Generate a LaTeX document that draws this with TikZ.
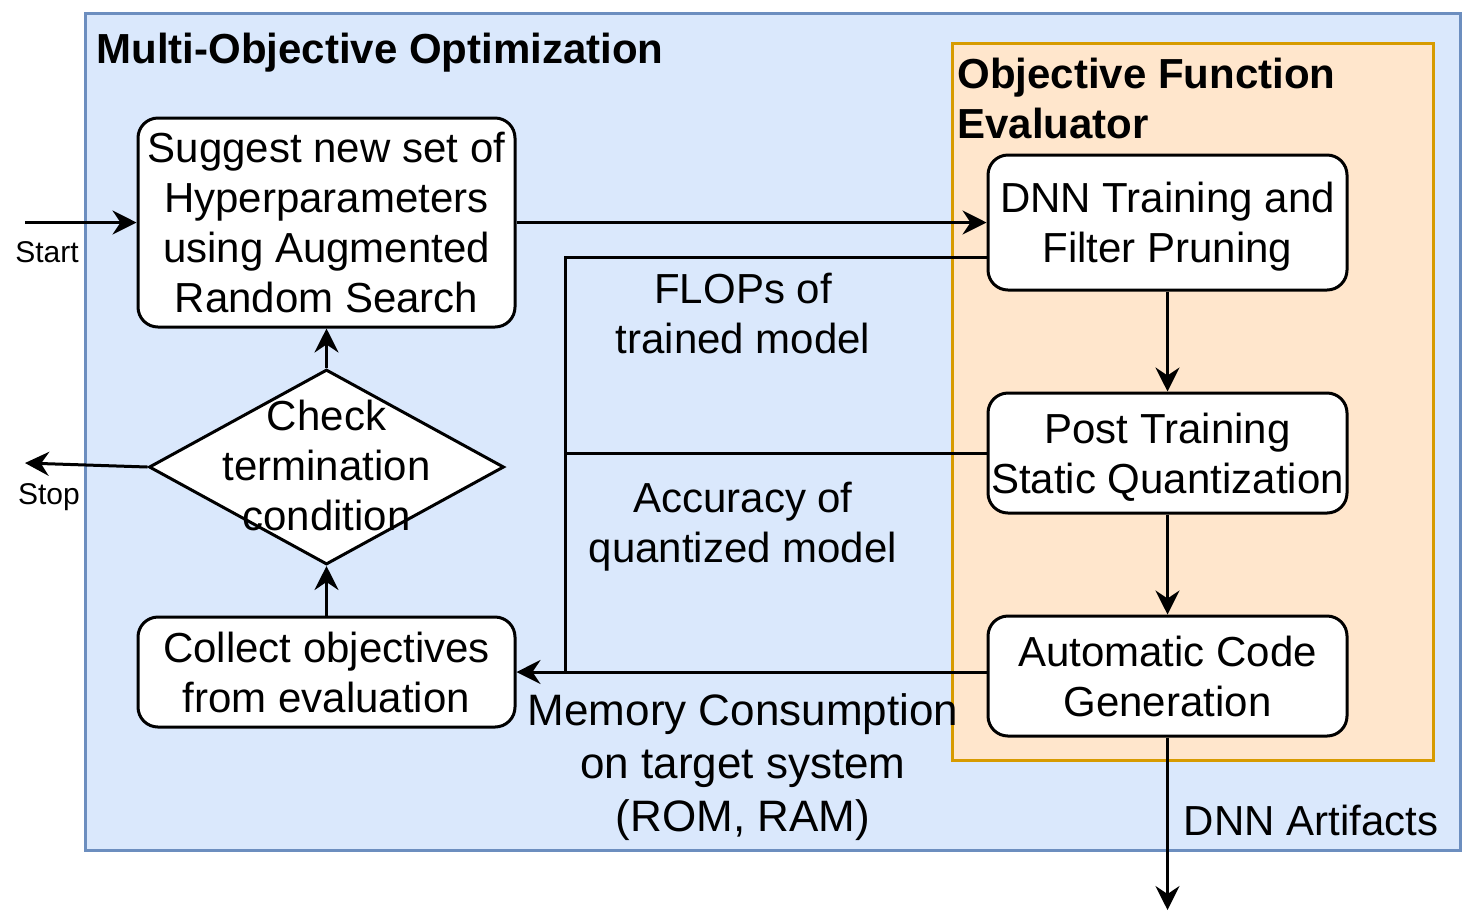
\documentclass[tikz,border=0pt]{standalone}
\usepackage{fontspec}
\setmainfont{Liberation Sans}
\usepackage{tikz}
\usetikzlibrary{arrows.meta,shapes.geometric}

\definecolor{moofill}{HTML}{DAE8FC}
\definecolor{mooline}{HTML}{6C8EBF}
\definecolor{evalfill}{HTML}{FFE6CC}
\definecolor{evalline}{HTML}{D79B00}

\begin{document}
\begin{tikzpicture}[x=0.5pt,y=-0.5pt,line width=1.5pt,
    >={Stealth[length=12pt,width=12pt,inset=4pt]},
    box/.style={draw,fill=white,rounded corners=10pt,align=center,inner sep=0pt,text depth=0pt,font=\fontsize{21}{25}\selectfont},
    lbl/.style={align=center,inner sep=0pt,text depth=0pt,font=\fontsize{21}{25}\selectfont},
    tag/.style={inner sep=0pt,text depth=0pt,font=\fontsize{15}{18}\selectfont}]
    \useasboundingbox (0,0) rectangle (1476,923);
    \draw[draw=mooline,fill=moofill] (85,13) rectangle (1460,850);
    \draw[draw=evalline,fill=evalfill] (952,43) rectangle (1433,760);
    \node[anchor=west,inner sep=0pt,text depth=0pt,font=\bfseries\fontsize{21}{25}\selectfont] (mootitle) at (95,48) {Multi-Objective Optimization};
    \node[anchor=west,align=left,inner sep=0pt,font=\bfseries\fontsize{21}{25}\selectfont] (evaltitle) at (956,98) {Objective Function\\Evaluator};
    \node[box,minimum width=188.5pt,minimum height=104.5pt] (suggest) at (326.5,222.5) {Suggest new set of\\Hyperparameters\\using Augmented\\Random Search};
    \node[draw,fill=white,diamond,minimum width=177.5pt,minimum height=97.5pt,inner sep=0pt] (check) at (326.5,467) {};
    \node[box,minimum width=188.5pt,minimum height=55pt] (collect) at (326.5,672) {Collect objectives\\from evaluation};
    \node[box,minimum width=179.5pt,minimum height=67.5pt] (dnn) at (1167.5,222.5) {DNN Training and\\Filter Pruning};
    \node[box,minimum width=179.5pt,minimum height=60pt] (post) at (1167.5,453) {Post Training\\Static Quantization};
    \node[box,minimum width=179.5pt,minimum height=60pt] (auto) at (1167.5,676) {Automatic Code\\Generation};
    \coordinate (start) at (25,222.5);
    \coordinate (stop) at (25,463);
    \coordinate (artifacts) at (1167.5,910);
    \coordinate (bend) at (565,257);
    \coordinate (bus) at (565,672);
    \draw[->] (start) -- (suggest);
    \draw[->] (check.west) -- (stop);
    \draw[->] (suggest) -- (dnn);
    \draw[->] (dnn) -- (post);
    \draw[->] (post) -- (auto);
    \draw[->] (auto) -- (artifacts);
    \draw[->] (auto.west |- bus) -- (collect.east);
    \draw (bend -| dnn.west) -- (bend) -- (bus);
    \draw (post.west) -- (post.west -| bus);
    \draw[->] (collect) -- (check);
    \draw[->] (check) -- (suggest);
    \node[lbl] (checktext) at (326.5,465) {Check\\termination\\condition};
    \node[tag] (starttext) at (47,252) {Start};
    \node[tag] (stoptext) at (49,494) {Stop};
    \node[lbl] (flops) at (743,313) {FLOPs of\\trained model};
    \node[lbl] (accuracy) at (743,522) {Accuracy of\\quantized model};
    \node[lbl,font=\fontsize{22}{26.5}\selectfont] (memory) at (743,763) {Memory Consumption\\on target system\\(ROM, RAM)};
    \node[lbl] (artifactstext) at (1311,820) {DNN Artifacts};
\end{tikzpicture}
\end{document}
